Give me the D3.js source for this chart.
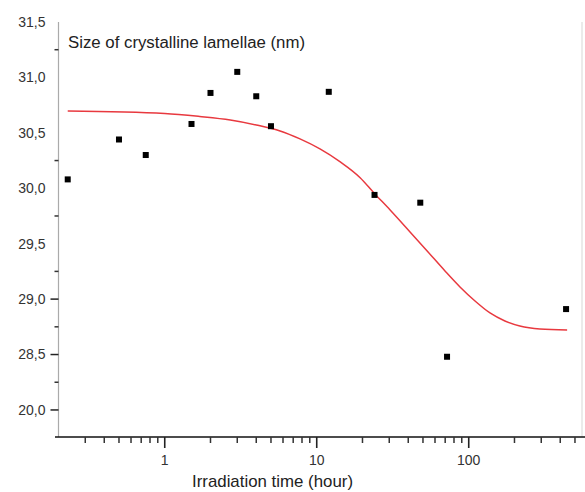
<!DOCTYPE html>
<html>
<head>
<meta charset="utf-8">
<script src="https://cdn.jsdelivr.net/npm/d3@7"></script>
<style>
  body { margin: 0; background: #fff; }
  svg { display: block; font-family: "Liberation Sans", Arial, sans-serif; }
</style>
</head>
<body>
<svg id="chart" width="585" height="492"></svg>
<script>
// measured points (hours, nm)
const times = [0.23, 0.5, 0.75, 1.5, 2, 3, 4, 5, 12, 24, 48, 72, 437];
const sizes = [30.08, 30.44, 30.30, 30.58, 30.86, 31.05, 30.83, 30.56, 30.87, 29.94, 29.87, 28.48, 28.91];

// fitted curve
const fitTimes = [0.23, 1, 1.7, 2.7, 4, 5.74, 7.76, 10.5, 14.2, 19.3, 23.8, 30.4, 41.1, 54, 69.8, 87.6, 110, 138, 173, 217, 294, 444];
const fitSizes = [30.697, 30.675, 30.648, 30.616, 30.571, 30.517, 30.445, 30.355, 30.240, 30.095, 29.958, 29.804, 29.606, 29.425, 29.254, 29.110, 28.983, 28.875, 28.803, 28.758, 28.731, 28.722];

const yTicks = [28, 28.5, 29, 29.5, 30, 30.5, 31, 31.5];
const yTickLabels = ["20,0", "28,5", "29,0", "29,5", "30,0", "30,5", "31,0", "31,5"];
const yMinor = [28.25, 28.75, 29.25, 29.75, 30.25, 31.25];
const xTicks = [1, 10, 100];
const xTickLabels = ["1", "10", "100"];

let svg = d3.select("#chart");

let x = d3.scaleLog()
  .domain([0.2, 600])
  .range([58.5, 587]);

let y = d3.scaleLinear()
  .domain([27.756, 31.5])
  .range([437, 22]);

// right frame edge (faint)
svg.append("line")
  .attr("x1", 582).attr("x2", 582)
  .attr("y1", 22).attr("y2", 437)
  .attr("stroke", "#e4e4e4")
  .attr("stroke-width", 1.5);

// y axis
let yAxis = svg.append("g")
  .attr("transform", `translate(${x(0.2)},0)`);

yAxis.append("line")
  .attr("y1", y(31.5)).attr("y2", 437)
  .attr("stroke", "#aaa")
  .attr("stroke-width", 1.2);

yAxis.selectAll(".major")
  .data(yTicks.filter(d => d <= 29))
  .enter()
  .append("line")
  .attr("x1", -8).attr("x2", 0)
  .attr("y1", d => y(d)).attr("y2", d => y(d))
  .attr("stroke", "#222")
  .attr("stroke-width", 1.5);

yAxis.selectAll(".minor")
  .data(yMinor)
  .enter()
  .append("line")
  .attr("x1", -4).attr("x2", 0)
  .attr("y1", d => y(d)).attr("y2", d => y(d))
  .attr("stroke", "#333")
  .attr("stroke-width", 1.5);

yAxis.selectAll("text")
  .data(yTicks)
  .enter()
  .append("text")
  .attr("x", -13)
  .attr("y", d => y(d))
  .attr("dy", "0.35em")
  .attr("text-anchor", "end")
  .attr("font-size", 14)
  .attr("fill", "#333")
  .text((d, i) => yTickLabels[i]);

// x axis
let xAxis = svg.append("g")
  .attr("transform", "translate(0,437)");

xAxis.append("line")
  .attr("x1", 55).attr("x2", 585)
  .attr("stroke", "#111")
  .attr("stroke-width", 1.6);

let minorX = [];
[0.1, 1, 10, 100].forEach(dec => {
  for (let k = 2; k <= 9; k++) {
    let v = dec * k;
    if (v > 0.2 && v < 600) minorX.push(v);
  }
});

xAxis.selectAll(".minor")
  .data(minorX)
  .enter()
  .append("line")
  .attr("x1", d => x(d)).attr("x2", d => x(d))
  .attr("y1", 0).attr("y2", 6)
  .attr("stroke", "#333")
  .attr("stroke-width", 1.5);

xAxis.selectAll(".major")
  .data(xTicks)
  .enter()
  .append("line")
  .attr("x1", d => x(d)).attr("x2", d => x(d))
  .attr("y1", 0).attr("y2", 11)
  .attr("stroke", "#222")
  .attr("stroke-width", 1.6);

xAxis.selectAll("text")
  .data(xTicks)
  .enter()
  .append("text")
  .attr("x", d => x(d))
  .attr("y", 23)
  .attr("dy", "0.35em")
  .attr("text-anchor", "middle")
  .attr("font-size", 14)
  .attr("fill", "#333")
  .text((d, i) => xTickLabels[i]);

// fit line
let fit = fitTimes.map((t, i) => [t, fitSizes[i]]);

svg.append("path")
  .datum(fit)
  .attr("fill", "none")
  .attr("stroke", "#e8393f")
  .attr("stroke-width", 1.5)
  .attr("d", d3.line()
    .x(d => x(d[0]))
    .y(d => y(d[1]))
    .curve(d3.curveMonotoneX));

// points
svg.append("g")
  .selectAll("rect")
  .data(times)
  .enter()
  .append("rect")
  .attr("x", d => x(d) - 3)
  .attr("y", (d, i) => y(sizes[i]) - 3)
  .attr("width", 6)
  .attr("height", 6)
  .attr("fill", "#000");

// labels
svg.append("text")
  .attr("x", 68)
  .attr("y", 48)
  .attr("font-size", 16)
  .attr("fill", "#222")
  .attr("textLength", 237)
  .attr("lengthAdjust", "spacingAndGlyphs")
  .text("Size of crystalline lamellae (nm)");

svg.append("text")
  .attr("x", 192)
  .attr("y", 487)
  .attr("font-size", 17)
  .attr("fill", "#222")
  .attr("textLength", 161)
  .attr("lengthAdjust", "spacingAndGlyphs")
  .text("Irradiation time (hour)");
</script>
</body>
</html>
